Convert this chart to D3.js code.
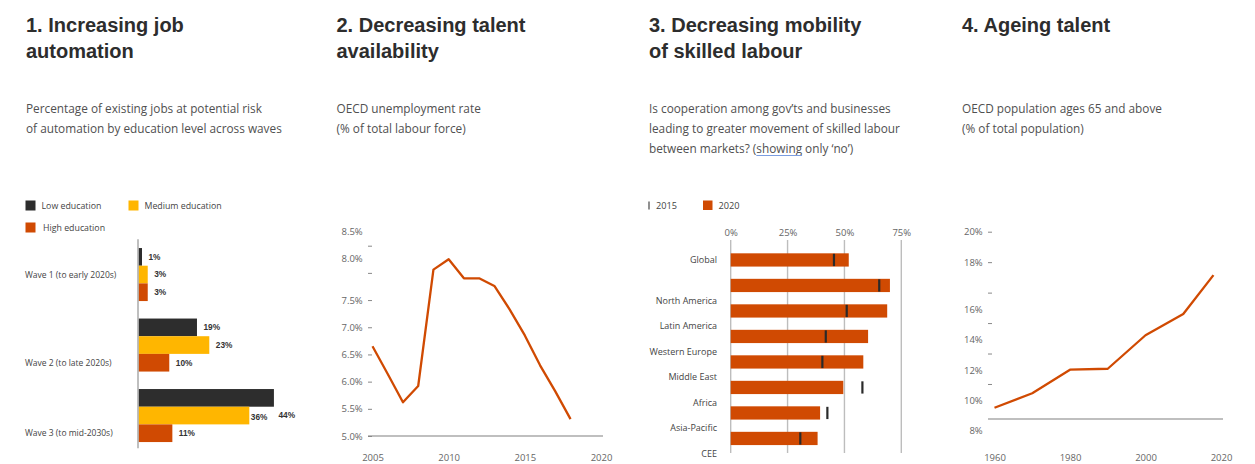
<!DOCTYPE html>
<html><head><meta charset="utf-8">
<script src="https://cdn.jsdelivr.net/npm/d3@7"></script>
<style>body{margin:0;background:#fff}svg{display:block}</style>
</head><body>
<svg id="c" width="1255" height="464"></svg>
<script>
// ---------- data ----------
const titles = [["1. Increasing job","automation"],["2. Decreasing talent","availability"],["3. Decreasing mobility","of skilled labour"],["4. Ageing talent"]];
const subtitles = [
  ["Percentage of existing jobs at potential risk","of automation by education level across waves"],
  ["OECD unemployment rate","(% of total labour force)"],
  ["Is cooperation among gov\u2019ts and businesses","leading to greater movement of skilled labour","between markets? (showing only \u2018no\u2019)"],
  ["OECD population ages 65 and above","(% of total population)"]
];

const waves = ["Wave 1 (to early 2020s)","Wave 2 (to late 2020s)","Wave 3 (to mid-2030s)"];
const eduLevels = ["Low education","Medium education","High education"];
const lowEdu = [1,19,44];
const medEdu = [3,23,36];
const highEdu = [3,10,11];

const unempYears = [2005,2006,2007,2008,2009,2010,2011,2012,2013,2014,2015,2016,2017,2018];
const unempRate = [6.65,6.14,5.62,5.92,8.06,8.25,7.9,7.9,7.76,7.33,6.85,6.3,5.82,5.31];
const unempTicks = [5.0,5.5,6.0,6.5,7.0,7.5,8.0,8.5];
const unempYearTicks = [2005,2010,2015,2020];

const regions = ["Global","North America","Latin America","Western Europe","Middle East","Africa","Asia-Pacific","CEE"];
const no2020 = [51.9,70.0,68.8,60.4,58.3,49.5,39.3,38.2];
const no2015 = [45.4,65.3,51.0,41.8,40.3,57.9,42.5,30.6];
const mobilityTicks = [0,25,50,75];
const mobilityLegend = ["2015","2020"];

const popYears = [1960,1970,1980,1990,2000,2010,2018];
const pop65 = [8.44,9.39,10.94,11.0,13.2,14.6,17.15];
const popTicks = [8,10,12,14,16,18,20];
const popYearTicks = [1960,1980,2000,2020];

// ---------- styles ----------
const DARK = "#2d2d2d", YELLOW = "#ffb600", ORANGE = "#d04a02";
const SANS = "'Open Sans', 'DejaVu Sans', sans-serif";
const HEAD = "'Liberation Sans', Arial, sans-serif";
const AX = "#666", GRID = "#bdbdbd";

const svg = d3.select("#c");
svg.append("rect").attr("width",1255).attr("height",464).attr("fill","#fff");

// ---------- titles / subtitles ----------
const panelX = [26, 336.5, 649, 962];
titles.forEach((t,i)=>{
  t.forEach((line,j)=>{
    svg.append("text").attr("x",panelX[i]).attr("y",31.5+j*26)
      .attr("font-family",HEAD).attr("font-weight","bold").attr("font-size",20)
      .attr("fill",DARK).text(line);
  });
});
subtitles.forEach((s,i)=>{
  s.forEach((line,j)=>{
    const t = svg.append("text").attr("x",panelX[i]).attr("y",113+j*20)
      .attr("font-family",SANS).attr("font-size",11.8).attr("fill","#505050").text(line);
    const k = line.indexOf("showing");
    if(k>=0){
      const node = t.node();
      const x0 = panelX[i] + node.getSubStringLength(0,k);
      const w = node.getSubStringLength(k,7);
      svg.append("line").attr("x1",x0).attr("x2",x0+w).attr("y1",113+j*20+2.5).attr("y2",113+j*20+2.5)
        .attr("stroke","#7b9de0").attr("stroke-width",1);
    }
  });
});

// ---------- panel 1 ----------
const eduColor = d3.scaleOrdinal().domain(eduLevels).range([DARK,YELLOW,ORANGE]);
const eduValues = [lowEdu, medEdu, highEdu];
const p1 = svg.append("g");
// legend
[[0,0],[1,0],[2,1]].forEach(([k,row],idx)=>{
  const lx = idx===1 ? 128.5 : 25.5;
  const ly = 200.5 + row*22;
  p1.append("rect").attr("x",lx).attr("y",ly).attr("width",10).attr("height",10).attr("fill",eduColor(eduLevels[k]));
  p1.append("text").attr("x",lx+(k===2?17.5:16)).attr("y",ly+5).attr("dy","0.35em")
    .attr("font-family",SANS).attr("font-size",8.8).attr("fill","#444").text(eduLevels[k]);
});
const x1 = d3.scaleLinear().domain([0,45]).range([138.5,277]);
const y1 = d3.scaleBand().domain(waves).range([239.3,450.8]).paddingInner(0.248).paddingOuter(0.124);
const y1i = d3.scaleBand().domain(eduLevels).range([0,y1.bandwidth()]);
const bars1 = [];
waves.forEach((w,i)=>eduLevels.forEach((e,j)=>bars1.push({wave:w,edu:e,j:j,v:eduValues[j][i]})));
const maxV = d3.max(bars1,d=>d.v);
const maxBar = bars1.find(d=>d.v===maxV);
const crowded = d=>d.wave===maxBar.wave && d.j===maxBar.j+1;
p1.selectAll("rect.b").data(bars1).join("rect").attr("class","b")
  .attr("x",x1(0)).attr("y",d=>y1(d.wave)+y1i(d.edu))
  .attr("width",d=>Math.max(3.5,x1(d.v)-x1(0))).attr("height",y1i.bandwidth())
  .attr("fill",d=>eduColor(d.edu));
p1.selectAll("text.v").data(bars1).join("text").attr("class","v")
  .attr("x",d=>Math.max(x1(0)+3.5,x1(d.v))+(d===maxBar?4.5:crowded(d)?1.5:6.5))
  .attr("y",d=>y1(d.wave)+y1i(d.edu)+y1i.bandwidth()/2+(d===maxBar?y1i.bandwidth():crowded(d)?1.5:0))
  .attr("dy","0.35em").attr("font-family",HEAD).attr("font-weight","bold").attr("font-size",8.3)
  .attr("fill","#333").text(d=>d.v+"%");
p1.append("line").attr("x1",138).attr("x2",138).attr("y1",y1.range()[0]).attr("y2",y1.range()[1]-2.5)
  .attr("stroke","#aaa").attr("stroke-width",1.5);
p1.selectAll("text.w").data(waves).join("text").attr("class","w")
  .attr("x",25).attr("y",(d,i)=>y1(d)+y1i(eduLevels[i===0?1:2])+y1i.bandwidth()/2)
  .attr("dy","0.35em").attr("font-family",SANS).attr("font-size",8.5).attr("fill","#444").text(d=>d);

// ---------- panel 2 ----------
const x2 = d3.scaleLinear().domain([2005,2020]).range([372.5,601]);
const y2 = d3.scaleLinear().domain([5,8.5]).range([436,245.7]);
const p2 = svg.append("g");
p2.append("line").attr("x1",368).attr("x2",603).attr("y1",y2(5)).attr("y2",y2(5)).attr("stroke","#aaa").attr("stroke-width",1.5);
const ax2 = p2.append("g").attr("transform","translate(372,0)")
  .call(d3.axisLeft(y2).tickValues(unempTicks).tickSize(4).tickPadding(5.3).tickFormat(d=>d3.format(".1f")(d)+"%"));
ax2.select(".domain").remove();
ax2.selectAll(".tick line").attr("stroke","#888");
ax2.selectAll(".tick text").attr("font-family",SANS).attr("font-size",9.5).attr("fill",AX)
  .attr("transform",d=>d>7.5?"translate(0,-14.5)":null);
const ax2b = p2.append("g").attr("transform",`translate(0,${y2(5)})`)
  .call(d3.axisBottom(x2).tickValues(unempYearTicks).tickSize(0).tickPadding(18.5).tickFormat(d3.format("d")));
ax2b.select(".domain").remove();
ax2b.selectAll(".tick text").attr("font-family",SANS).attr("font-size",9.5).attr("fill",AX);
p2.append("path").datum(unempYears.map((y,i)=>[y,unempRate[i]]))
  .attr("d",d3.line().x(d=>x2(d[0])).y(d=>y2(d[1])))
  .attr("fill","none").attr("stroke",ORANGE).attr("stroke-width",2.3).attr("stroke-linejoin","round");

// ---------- panel 3 ----------
const p3 = svg.append("g");
const x3 = d3.scaleLinear().domain([0,75]).range([730.7,901.3]);
const y3 = d3.scaleBand().domain(regions).range([247.2,451.2]).paddingInner(0.48).paddingOuter(0.24);
// legend
p3.append("line").attr("x1",649).attr("x2",649).attr("y1",201.5).attr("y2",209.5).attr("stroke","#555").attr("stroke-width",1.3);
p3.append("text").attr("x",656).attr("y",205.5).attr("dy","0.35em").attr("font-family",SANS).attr("font-size",9.2).attr("fill","#444").text(mobilityLegend[0]);
p3.append("rect").attr("x",703).attr("y",200.5).attr("width",9.5).attr("height",9.5).attr("fill",ORANGE);
p3.append("text").attr("x",718.5).attr("y",205.5).attr("dy","0.35em").attr("font-family",SANS).attr("font-size",9.2).attr("fill","#444").text(mobilityLegend[1]);
// grid
p3.selectAll("line.g").data(mobilityTicks).join("line").attr("class","g")
  .attr("x1",d=>x3(d)).attr("x2",d=>x3(d)).attr("y1",240).attr("y2",453)
  .attr("stroke",GRID).attr("stroke-width",1.4);
const ax3 = p3.append("g").attr("transform","translate(0,240)")
  .call(d3.axisTop(x3).tickValues(mobilityTicks).tickSize(0).tickPadding(4.3).tickFormat(d=>d+"%"));
ax3.select(".domain").remove();
ax3.selectAll(".tick text").attr("font-family",SANS).attr("font-size",9.5).attr("fill",AX);
p3.selectAll("rect.b").data(regions).join("rect").attr("class","b")
  .attr("x",x3(0)).attr("y",d=>y3(d)).attr("width",(d,i)=>x3(no2020[i])-x3(0)).attr("height",y3.bandwidth())
  .attr("fill",ORANGE);
p3.selectAll("line.m").data(regions).join("line").attr("class","m")
  .attr("x1",(d,i)=>x3(no2015[i])).attr("x2",(d,i)=>x3(no2015[i]))
  .attr("y1",d=>y3(d)+0.5).attr("y2",d=>y3(d)+y3.bandwidth()-0.5)
  .attr("stroke","#2a2a2a").attr("stroke-width",2.2);
p3.selectAll("text.r").data(regions).join("text").attr("class","r")
  .attr("x",717).attr("y",(d,i)=>y3(d)+y3.bandwidth()/2+(i===0?0:y3.step()*0.6))
  .attr("dy","0.35em").attr("text-anchor","end").attr("font-family",SANS).attr("font-size",9).attr("fill","#444").text(d=>d);

// ---------- panel 4 ----------
const p4 = svg.append("g");
const x4 = d3.scaleLinear().domain([1960,2020]).range([994.5,1221]);
const y4 = d3.scaleLinear().domain([7.7,20]).range([419,231.7]);
p4.append("line").attr("x1",988).attr("x2",1223).attr("y1",y4(7.7)).attr("y2",y4(7.7)).attr("stroke","#aaa").attr("stroke-width",1.5);
const ax4 = p4.append("g").attr("transform","translate(992,0)")
  .call(d3.axisLeft(y4).tickValues(popTicks).tickSize(4).tickPadding(5.3).tickFormat(d=>d+"%"));
ax4.select(".domain").remove();
ax4.selectAll(".tick line").attr("stroke","#888").attr("opacity",d=>d===8?0:1);
ax4.selectAll(".tick text").attr("font-family",SANS).attr("font-size",9.5).attr("fill",AX)
  .attr("transform",d=>d<=16?"translate(0,16.5)":null);
const ax4b = p4.append("g").attr("transform",`translate(0,${y4(7.7)})`)
  .call(d3.axisBottom(x4).tickValues(popYearTicks).tickSize(0).tickPadding(35).tickFormat(d3.format("d")));
ax4b.select(".domain").remove();
ax4b.selectAll(".tick text").attr("font-family",SANS).attr("font-size",9.5).attr("fill",AX);
p4.append("path").datum(popYears.map((y,i)=>[y,pop65[i]]))
  .attr("d",d3.line().x(d=>x4(d[0])).y(d=>y4(d[1])))
  .attr("fill","none").attr("stroke",ORANGE).attr("stroke-width",2.3).attr("stroke-linejoin","round");
</script>
</body></html>
